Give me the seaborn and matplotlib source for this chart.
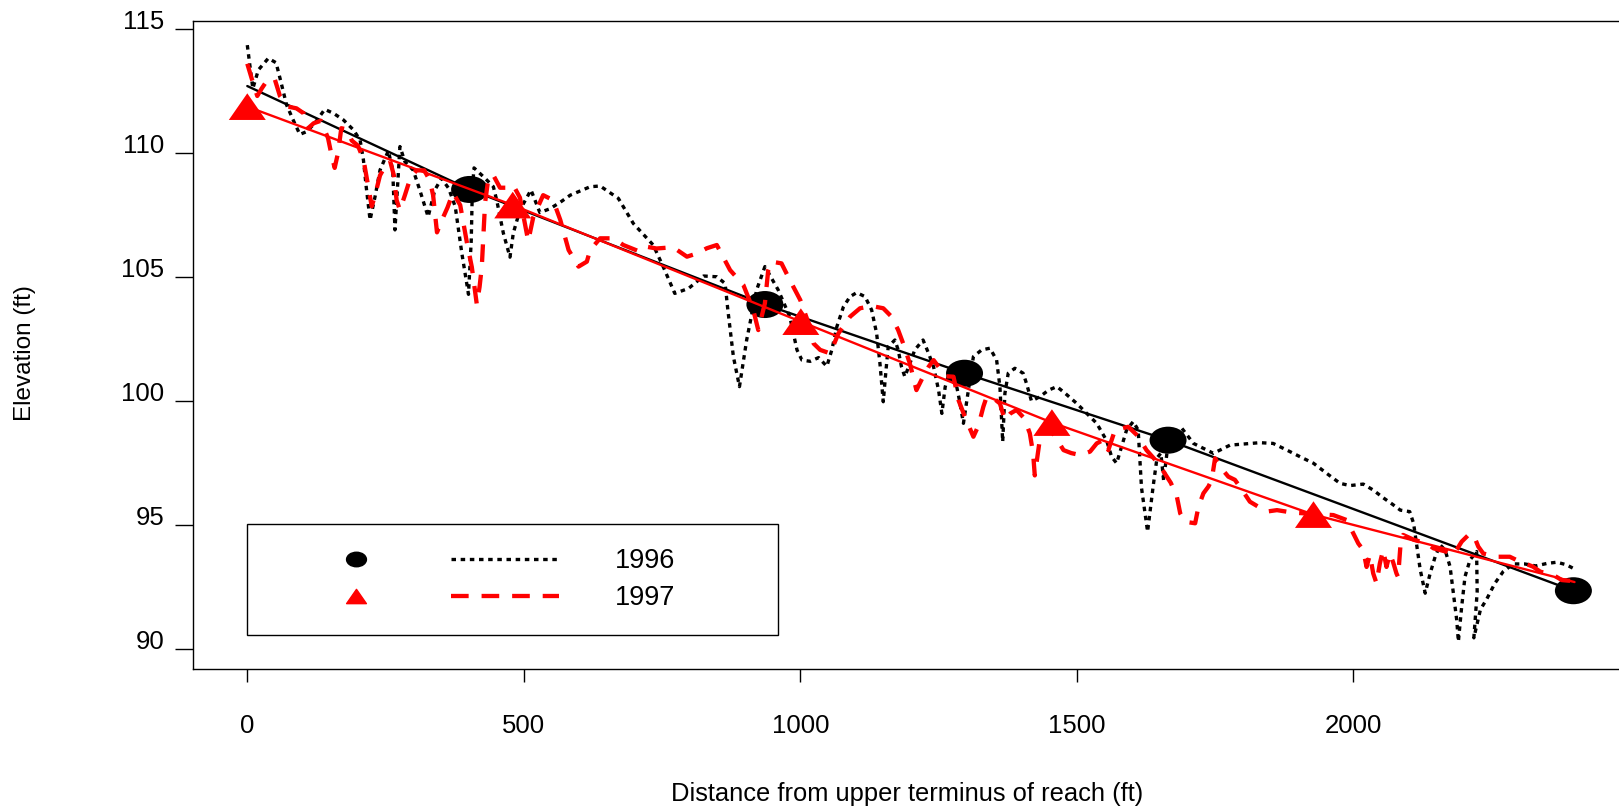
import matplotlib
matplotlib.use("Agg")
import matplotlib.pyplot as plt
import seaborn as sns
from matplotlib.path import Path
from matplotlib.lines import Line2D
from matplotlib.legend_handler import HandlerBase

# ---- surveyed long profile, 1996 (thalweg points) ----
dist_1996 = [0, 10, 20, 38, 52, 60, 71, 83, 95, 107, 122, 140, 156, 174, 192, 204, 210, 215, 222, 231,
             240, 255, 263, 267, 271, 276, 285, 300, 312, 327, 339, 351, 364, 376, 388, 400, 405, 407, 410, 430,
             445, 451, 463, 475, 481, 493, 513, 529, 547, 565, 584, 620, 638, 671, 698, 734, 752, 773, 798, 825,
             849, 864, 869, 879, 890, 903, 921, 936, 960, 981, 994, 1003, 1018, 1033, 1048, 1057, 1066, 1078, 1090, 1102,
             1117, 1129, 1138, 1144, 1150, 1155, 1159, 1171, 1177, 1183, 1189, 1198, 1207, 1222, 1232, 1241, 1250, 1256, 1262, 1270,
             1280, 1288, 1295, 1303, 1313, 1328, 1343, 1355, 1361, 1364, 1366, 1370, 1376, 1388, 1403, 1409, 1418, 1433, 1449, 1464,
             1479, 1500, 1518, 1536, 1554, 1563, 1572, 1581, 1590, 1602, 1611, 1617, 1628, 1638, 1645, 1652, 1657, 1663, 1672, 1690,
             1711, 1729, 1747, 1777, 1831, 1855, 1880, 1904, 1928, 1952, 1976, 1994, 2018, 2036, 2054, 2070, 2085, 2102, 2109, 2115,
             2121, 2130, 2139, 2148, 2157, 2166, 2175, 2181, 2187, 2190, 2196, 2202, 2211, 2223, 2224, 2218, 2230, 2241, 2256, 2271,
             2289, 2310, 2330, 2350, 2368, 2385, 2398]
elev_1996 = [114.35, 112.6, 113.35, 113.82, 113.64, 112.94, 111.94, 111.33, 110.75, 110.86, 111.2, 111.76, 111.6, 111.33, 110.93, 110.52, 109.72, 108.64, 107.3, 108.24,
             109.31, 110.09, 109.31, 106.9, 108.37, 110.26, 109.65, 109.31, 108.5, 107.43, 108.5, 108.98, 108.58, 107.84, 105.95, 104.3, 106.5, 108.6, 109.4, 108.98,
             108.64, 108.1, 106.77, 105.8, 106.77, 107.7, 108.51, 107.6, 107.75, 108.0, 108.3, 108.64, 108.67, 108.17, 107.16, 106.29, 105.42, 104.34, 104.54, 105.04,
             105.01, 104.74, 103.67, 101.79, 100.58, 102.46, 104.48, 105.42, 104.48, 103.4, 102.06, 101.65, 101.6, 101.75, 101.4, 102.06, 102.99, 103.8, 104.21, 104.37,
             104.21, 103.67, 102.73, 101.52, 99.97, 101.25, 102.19, 102.46, 102.06, 101.38, 100.98, 101.5, 102.06, 102.46, 101.92, 101.38, 100.44, 99.5, 100.57, 101.2,
             100.9, 100.0, 99.1, 100.3, 101.79, 102.06, 102.13, 101.65, 100.57, 99.23, 98.36, 100.31, 101.12, 101.32, 101.12, 100.71, 100.0, 100.17, 100.44, 100.58,
             100.31, 99.9, 99.5, 99.1, 98.4, 97.75, 97.49, 98.16, 98.83, 99.17, 98.83, 96.5, 94.73, 96.55, 97.7, 97.9, 96.8, 97.9, 98.7, 98.9,
             98.29, 98.09, 97.89, 98.22, 98.32, 98.29, 98.02, 97.75, 97.49, 97.08, 96.68, 96.59, 96.65, 96.41, 96.1, 95.85, 95.6, 95.54, 95.07, 94.13,
             93.2, 92.25, 93.05, 93.72, 94.2, 93.99, 93.32, 92.25, 91.17, 90.3, 91.71, 92.92, 93.59, 93.93, 92.3, 90.45, 91.6, 92.0, 92.65, 93.12,
             93.43, 93.43, 93.35, 93.45, 93.5, 93.4, 93.25]

# ---- surveyed long profile, 1997 ----
dist_1997 = [0, 8, 18, 26, 38, 50, 59, 74, 89, 102, 110, 120, 133, 146, 152, 158, 164, 170, 180, 189,
             200, 210, 216, 225, 231, 240, 250, 258, 265, 270, 276, 285, 295, 306, 320, 330, 336, 343, 352, 362,
             372, 385, 397, 406, 415, 420, 424, 430, 436, 445, 457, 470, 481, 493, 508, 517, 535, 553, 566, 581,
             599, 614, 620, 638, 662, 680, 710, 722, 740, 770, 795, 813, 831, 849, 873, 897, 915, 924, 936, 942,
             948, 966, 981, 1000, 1015, 1024, 1036, 1054, 1069, 1090, 1108, 1129, 1150, 1165, 1177, 1186, 1198, 1210, 1222, 1232,
             1241, 1250, 1262, 1277, 1286, 1297, 1313, 1322, 1331, 1337, 1350, 1361, 1370, 1380, 1391, 1405, 1415, 1421, 1424, 1433,
             1446, 1460, 1476, 1490, 1506, 1524, 1536, 1548, 1557, 1569, 1593, 1610, 1626, 1642, 1657, 1670, 1681, 1687, 1696, 1714,
             1720, 1729, 1738, 1744, 1750, 1759, 1774, 1786, 1801, 1813, 1843, 1862, 1890, 1928, 1964, 1988, 2000, 2009, 2018, 2024,
             2030, 2036, 2042, 2048, 2054, 2060, 2066, 2072, 2078, 2081, 2086, 2090, 2110, 2133, 2145, 2169, 2181, 2196, 2211, 2220,
             2226, 2235, 2259, 2283, 2295, 2325, 2338, 2362, 2377, 2392]
elev_1997 = [113.6, 113.0, 112.3, 112.6, 113.0, 112.95, 112.3, 111.87, 111.8, 111.6, 111.0, 111.2, 111.3, 110.6, 109.95, 109.4, 110.0, 111.0, 110.95, 110.5,
             110.3, 109.75, 109.0, 107.85, 108.3, 109.1, 109.5, 109.7, 109.1, 108.1, 107.7, 108.3, 109.0, 109.3, 109.3, 108.9, 108.3, 106.8, 107.3, 107.8,
             108.4, 107.9, 106.4, 105.4, 103.9, 104.6, 105.4, 108.0, 109.0, 109.1, 108.6, 108.6, 108.7, 108.2, 106.45, 107.4, 108.3, 108.1, 107.3, 106.09,
             105.42, 105.62, 106.09, 106.56, 106.56, 106.29, 106.02, 106.22, 106.15, 106.2, 105.82, 105.95, 106.16, 106.29, 105.28, 104.68, 103.67, 102.86, 103.94, 105.28,
             105.62, 105.55, 104.88, 104.07, 103.13, 102.32, 102.06, 101.92, 102.73, 103.4, 103.74, 103.83, 103.74, 103.4, 102.86, 102.32, 101.52, 100.44, 100.98, 101.38,
             101.65, 101.38, 101.0, 100.98, 100.04, 99.4, 98.56, 99.0, 99.77, 100.17, 100.1, 99.9, 99.23, 99.5, 99.64, 99.3, 98.7, 97.89, 97.0, 98.43,
             98.97, 98.6, 98.02, 97.9, 97.82, 97.96, 98.29, 98.43, 98.02, 98.83, 98.96, 98.6, 98.02, 97.62, 97.15, 96.7, 96.14, 95.47, 95.13, 95.07,
             95.74, 96.28, 96.55, 96.82, 97.69, 97.35, 96.95, 96.82, 96.34, 95.94, 95.54, 95.6, 95.5, 95.45, 95.4, 95.2, 94.66, 94.26, 93.99, 93.31,
             93.8, 93.05, 92.65, 93.45, 94.0, 93.31, 93.85, 93.5, 93.05, 92.9, 94.4, 94.6, 94.4, 94.26, 94.06, 93.92, 93.79, 94.33, 94.66, 94.46,
             94.13, 93.85, 93.72, 93.72, 93.59, 93.32, 93.12, 92.98, 92.78, 92.75]

# ---- reach-average gradient lines and the points that define them ----
trend_dist_1996 = [0, 402, 936, 1297, 1665, 2398]
trend_elev_1996 = [112.7, 108.53, 103.89, 101.12, 98.42, 92.35]
pts_dist_1996 = [402, 936, 1297, 1665, 2398]
pts_elev_1996 = [108.53, 103.89, 101.12, 98.42, 92.35]

trend_dist_1997 = [0, 480, 1001, 1455, 1928, 2400]
trend_elev_1997 = [111.87, 107.9, 103.2, 99.13, 95.42, 92.7]
pts_dist_1997 = [0, 480, 1001, 1455, 1928]
pts_elev_1997 = [111.87, 107.9, 103.2, 99.13, 95.42]

series_labels = ["1996", "1997"]
x_ticks = [0, 500, 1000, 1500, 2000]
y_ticks = [90, 95, 100, 105, 110, 115]

# ---- style ----
sns.set_theme(style="white")
plt.rcParams["font.family"] = ["Liberation Sans", "DejaVu Sans"]
plt.rcParams.update({
    "text.color": "black",
    "axes.labelcolor": "black",
    "xtick.color": "black",
    "ytick.color": "black",
    "axes.edgecolor": "black",
})

W, H = 1619, 811
fig = plt.figure(figsize=(W / 100, H / 100), dpi=100)
fig.patch.set_facecolor("white")
ax = fig.add_axes([193.3 / W, 1 - 669 / H, (1685.1 - 193.3) / W, (669 - 20.7) / H])
ax.set_facecolor("white")

# wide-ish oval and flattened triangle markers
circ = Path.unit_circle()
oval = Path(circ.vertices * [1.0, 0.73], circ.codes)
flat_tri = Path([(-1, -0.72), (1, -0.72), (0, 0.72), (-1, -0.72)],
                [Path.MOVETO, Path.LINETO, Path.LINETO, Path.CLOSEPOLY])

dotted = (0, (1.35, 1.4))
dashed = (0, (4.1, 3.0))

sns.lineplot(x=dist_1996, y=elev_1996, sort=False, estimator=None, ax=ax,
             color="black", lw=2.4, linestyle=dotted, zorder=2.0)
sns.lineplot(x=trend_dist_1996, y=trend_elev_1996, sort=False, estimator=None, ax=ax,
             color="black", lw=1.7, zorder=2.1)
sns.scatterplot(x=pts_dist_1996, y=pts_elev_1996, ax=ax, marker=oval, s=710,
                color="black", linewidth=0, edgecolor="none", zorder=2.2)

sns.lineplot(x=dist_1997, y=elev_1997, sort=False, estimator=None, ax=ax,
             color="#ff0000", lw=3.1, linestyle=dashed, zorder=2.3)
sns.lineplot(x=trend_dist_1997, y=trend_elev_1997, sort=False, estimator=None, ax=ax,
             color="#ff0000", lw=1.7, zorder=2.4)
sns.scatterplot(x=pts_dist_1997, y=pts_elev_1997, ax=ax, marker=flat_tri, s=710,
                color="#ff0000", linewidth=0, edgecolor="none", zorder=2.5)

ax.set_xlim(-97.65, 2600)
ax.set_ylim(89.194, 115.335)

for side in ["left", "top", "bottom"]:
    ax.spines[side].set_visible(True)
    ax.spines[side].set_color("black")
    ax.spines[side].set_linewidth(1.0)
ax.spines["right"].set_visible(False)

ax.set_xticks(x_ticks)
ax.set_xticklabels([str(v) for v in x_ticks])
ax.set_yticks(y_ticks)
ax.set_yticklabels([str(v) for v in y_ticks])
ax.tick_params(axis="x", direction="out", length=9.1, width=1.0, pad=23, labelsize=18.5,
               bottom=True, top=False)
ax.tick_params(axis="y", direction="out", length=13, width=1.0, pad=7.7, labelsize=18.5,
               left=True, right=False)
plt.setp(ax.get_yticklabels(), va="baseline")

ax.set_xlabel("Distance from upper terminus of reach (ft)", fontsize=18.4)
ax.xaxis.set_label_coords(907.6 / W, 1 - 801 / H, transform=fig.transFigure)
ax.xaxis.label.set_va("baseline")
ax.set_ylabel("Elevation (ft)", fontsize=17.5)
ax.yaxis.set_label_coords(24.5 / W, 1 - 353 / H, transform=fig.transFigure)
ax.yaxis.label.set_va("center")


class MarkerThenLine(HandlerBase):
    """Legend entry: a marker on the left, a separate line sample on the right."""

    def __init__(self, marker_frac, line_frac):
        super().__init__()
        self.marker_frac = marker_frac
        self.line_frac = line_frac

    def create_artists(self, legend, orig_handle, xdescent, ydescent, width, height,
                       fontsize, trans):
        mk, ln = orig_handle
        y = height / 2 - ydescent
        x0 = -xdescent
        m = Line2D([x0 + self.marker_frac * width], [y])
        m.update_from(mk)
        m.set_linestyle("none")
        seg = Line2D([x0 + self.line_frac * width, x0 + width], [y, y])
        seg.update_from(ln)
        seg.set_marker("none")
        m.set_transform(trans)
        seg.set_transform(trans)
        return [seg, m]


h96 = (Line2D([], [], marker=oval, markersize=14.3, color="black", linestyle="none"),
       Line2D([], [], color="black", lw=2.4, linestyle=dotted))
h97 = (Line2D([], [], marker=flat_tri, markersize=14.3, color="#ff0000", linestyle="none"),
       Line2D([], [], color="#ff0000", lw=3.1, linestyle=dashed))

leg = ax.legend([h96, h97], series_labels,
                handler_map={tuple: MarkerThenLine(0.296, 0.624)},
                loc="upper left",
                bbox_to_anchor=(246.5 / W, 1 - 633.3 / H, (777.6 - 246.5) / W, (633.3 - 524.3) / H),
                bbox_transform=fig.transFigure, mode="expand", borderaxespad=0,
                borderpad=0.89, labelspacing=0.4, handlelength=10.66, handletextpad=2.05,
                handleheight=0.7, numpoints=1, fontsize=19.5, frameon=True, fancybox=False,
                edgecolor="black", framealpha=1, shadow=False)
leg.get_frame().set_linewidth(1.0)

fig.savefig("out.png", dpi=100, facecolor="white")
